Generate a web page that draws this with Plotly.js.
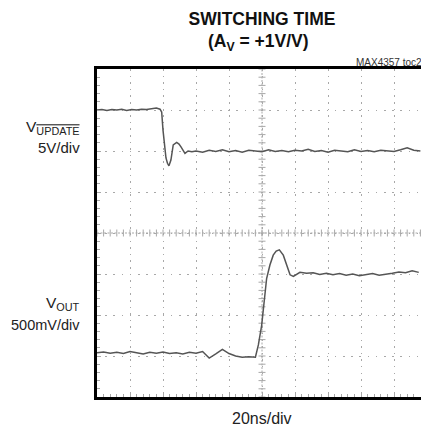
<!DOCTYPE html>
<html>
<head>
<meta charset="utf-8">
<script src="https://cdn.plot.ly/plotly-3.0.1.min.js"></script>
<style>
  html, body { margin: 0; padding: 0; background: #fff; }
  #chart { width: 421px; height: 432px; }
</style>
</head>
<body>
<div id="chart"></div>
<script>
// Time axis in ns (20 ns/div), vertical values in screen divisions (0 = bottom, 8 = top)
const updateTime = [0,3,6,9,12,15,18,21,24,27,30,33,36,38.2,39.2,40.0,40.9,41.8,42.7,43.6,44.8,46.2,48.3,49.7,50.9,52.2,53.3,55.2,57.5,
  60,64,68,72,76,80,84,88,92,96,100,104,108,112,116,120,124,128,132,136,140,144,148,152,156,160,164,168,172,176,180,184,188,192,196];
const updateDiv = [7.00,7.01,6.99,7.01,7.00,7.02,6.99,7.01,7.00,7.02,7.01,7.03,7.05,7.02,6.95,6.51,6.15,5.83,5.70,5.64,5.78,6.15,6.21,6.17,6.10,6.00,5.94,6.00,5.98,
  6.00,5.97,6.02,5.99,6.03,5.98,6.01,5.97,6.02,6.00,5.98,6.03,5.99,6.01,5.98,6.02,6.00,6.04,5.99,6.01,5.97,6.02,6.00,5.98,6.03,5.99,6.01,5.98,6.02,6.00,5.99,6.03,6.08,6.02,6.00];

const outTime = [0,4,8,12,16,20,24,28,32,36,40,44,48,52,56,60,64,68,72,76,80,84,88,92,96,
  97.8,99.8,100.8,101.8,102.8,104.8,106.8,108.6,110.5,112.9,115.9,117,119,121,123,127,
  131,135,139,143,147,151,155,159,163,167,171,175,179,183,187,191,195];
const outDiv = [1.08,1.10,1.07,1.09,1.06,1.11,1.08,1.05,1.09,1.07,1.10,1.06,1.08,1.05,1.09,1.07,1.11,0.95,1.05,1.16,1.06,1.00,0.97,0.98,0.97,
  1.27,1.75,2.08,2.49,2.89,3.22,3.46,3.56,3.59,3.46,3.14,2.98,2.94,3.00,3.04,3.02,
  3.03,2.99,3.02,2.98,3.01,2.97,3.00,2.96,2.98,3.01,2.97,2.99,3.02,3.05,3.03,3.08,3.04];

// Graticule
const nsPerDiv = 20;
const xDivs = 10, yDivs = 8, minorPerDiv = 5;
const xCenter = nsPerDiv * xDivs / 2, yCenter = yDivs / 2;
const hTickX = [], vTickY = [];
for (let i = 0; i <= xDivs * minorPerDiv; i++) hTickX.push(i * nsPerDiv / minorPerDiv);
for (let i = 0; i <= yDivs * minorPerDiv; i++) vTickY.push(i / minorPerDiv);

const labelFont = "Liberation Sans Narrow, Arial Narrow, Liberation Sans, Arial, sans-serif";
const traceColor = "#555555";
const gridColor = "#a8a8a8";

const traces = [
  { x: hTickX, y: hTickX.map(() => yCenter), mode: "markers", hoverinfo: "skip",
    marker: { symbol: "line-ns", size: 5, line: { width: 1, color: gridColor } } },
  { x: vTickY.map(() => xCenter), y: vTickY, mode: "markers", hoverinfo: "skip",
    marker: { symbol: "line-ew", size: 5, line: { width: 1, color: gridColor } } },
  { x: updateTime, y: updateDiv, mode: "lines", line: { color: traceColor, width: 1.5 } },
  { x: outTime, y: outDiv, mode: "lines", line: { color: traceColor, width: 1.5 } }
];

// plot area: left 97, right 421 (cut), 33 px per div
const plotLeft = 97, plotW = 421 - 97, pxPerDiv = 33;
const xMax = plotW / pxPerDiv * nsPerDiv;

const layout = {
  width: 421, height: 432,
  margin: { l: 97, r: 0, t: 69, b: 35, pad: 0 },
  paper_bgcolor: "#fff", plot_bgcolor: "#fff",
  showlegend: false,
  title: {
    text: "<b>SWITCHING TIME</b>",
    font: { family: labelFont, size: 17.5, color: "#111" },
    xref: "container", x: 262 / 421, xanchor: "center",
    yref: "container", y: 1 - 13 / 432, yanchor: "top"
  },
  xaxis: {
    range: [0, xMax], dtick: nsPerDiv, tick0: 0,
    showgrid: true, gridcolor: gridColor, gridwidth: 1, griddash: "1.5px,5.1px",
    zeroline: false, showticklabels: false,
    ticks: "inside", ticklen: 4, tickcolor: gridColor,
    minor: { dtick: nsPerDiv / minorPerDiv, ticks: "inside", ticklen: 3, tickcolor: gridColor, showgrid: false },
    showline: true, linecolor: "#000", linewidth: 3, mirror: true,
    fixedrange: true
  },
  yaxis: {
    range: [0, yDivs], dtick: 1, tick0: 0,
    showgrid: true, gridcolor: gridColor, gridwidth: 1, griddash: "1.5px,6.7px",
    zeroline: false, showticklabels: false,
    ticks: "inside", ticklen: 4, tickcolor: gridColor,
    minor: { dtick: 1 / minorPerDiv, ticks: "inside", ticklen: 3, tickcolor: gridColor, showgrid: false },
    showline: true, linecolor: "#000", linewidth: 3, mirror: false,
    fixedrange: true
  },
  shapes: [
    { type: "line", xref: "x", yref: "paper", x0: xCenter, x1: xCenter, y0: 0, y1: 1, layer: "below",
      line: { color: gridColor, width: 1, dash: "2px,1.5px" } },
    { type: "line", xref: "paper", yref: "y", x0: 0, x1: 1, y0: yCenter, y1: yCenter, layer: "below",
      line: { color: gridColor, width: 1, dash: "2px,1.5px" } }
  ],
  annotations: [
    { text: "<b>(A<sub>V</sub> = +1V/V)</b>", xref: "paper", yref: "paper",
      x: (258 - plotLeft) / plotW, y: (397 - 42) / 328, xanchor: "center", yanchor: "middle",
      showarrow: false, font: { family: labelFont, size: 17.5, color: "#111" } },
    { text: "MAX4357 toc2", xref: "paper", yref: "paper", x: 1.008, y: (397 - 63) / 328,
      xanchor: "right", yanchor: "middle", showarrow: false,
      font: { family: labelFont, size: 10, color: "#333" } },
    { text: "V<sub><span style=\"text-decoration:overline\">UPDATE</span></sub>", xref: "paper", yref: "paper",
      x: (82 - plotLeft) / plotW, y: (397 - 127) / 328, xanchor: "right", yanchor: "middle", align: "right",
      showarrow: false, font: { family: labelFont, size: 15.5, color: "#222" } },
    { text: "5V/div", xref: "paper", yref: "paper",
      x: (82 - plotLeft) / plotW, y: (397 - 147) / 328, xanchor: "right", yanchor: "middle",
      showarrow: false, font: { family: labelFont, size: 15, color: "#222" } },
    { text: "V<sub>OUT</sub>", xref: "paper", yref: "paper",
      x: (82 - plotLeft) / plotW, y: (397 - 303) / 328, xanchor: "right", yanchor: "middle",
      showarrow: false, font: { family: labelFont, size: 15.5, color: "#222" } },
    { text: "500mV/div", xref: "paper", yref: "paper",
      x: (82 - plotLeft) / plotW, y: (397 - 325) / 328, xanchor: "right", yanchor: "middle",
      showarrow: false, font: { family: labelFont, size: 14.5, color: "#222" } },
    { text: "20ns/div", xref: "paper", yref: "paper",
      x: (262 - plotLeft) / plotW, y: (397 - 418) / 328, xanchor: "center", yanchor: "middle",
      showarrow: false, font: { family: labelFont, size: 16, color: "#222" } }
  ]
};

Plotly.newPlot("chart", traces, layout, { staticPlot: true, displayModeBar: false });
</script>
</body>
</html>
